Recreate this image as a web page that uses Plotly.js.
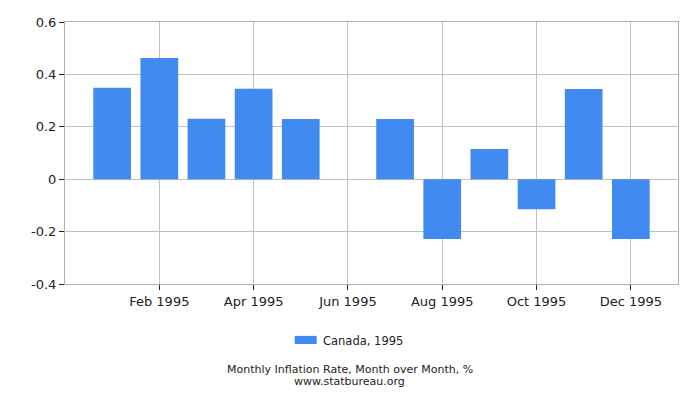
<!DOCTYPE html>
<html>
<head>
<meta charset="utf-8">
<script src="https://cdn.plot.ly/plotly-3.0.1.min.js"></script>
<style>html,body{margin:0;padding:0;background:#fff}#chart{width:700px;height:400px}</style>
</head>
<body>
<div id="chart"></div>
<script>
const months = ["Jan 1995","Feb 1995","Mar 1995","Apr 1995","May 1995","Jun 1995","Jul 1995","Aug 1995","Sep 1995","Oct 1995","Nov 1995","Dec 1995"];
const values = [0.349, 0.463, 0.231, 0.345, 0.23, 0, 0.23, -0.228, 0.115, -0.115, 0.344, -0.228];
const tickIdx = [1, 3, 5, 7, 9, 11];
const tickLabels = ["Feb 1995","Apr 1995","Jun 1995","Aug 1995","Oct 1995","Dec 1995"];
const yTicks = [-0.4, -0.2, 0, 0.2, 0.4, 0.6];
const yLabels = ["-0.4", "-0.2", "0", "0.2", "0.4", "0.6"];
const seriesName = "Canada, 1995";
const titleLine1 = "Monthly Inflation Rate, Month over Month, %";
const titleLine2 = "www.statbureau.org";
const barColor = "#418bf0";

const xs = months.map((m, i) => i);

const trace = {
  type: "bar",
  x: xs,
  y: values,
  name: seriesName,
  text: months,
  hoverinfo: "text+y",
  textposition: "none",
  marker: {color: barColor},
  width: 0.8,
  showlegend: false
};

const font = {family: "DejaVu Sans, sans-serif", size: 13, color: "#222"};
const small = {family: "DejaVu Sans, sans-serif", size: 11, color: "#222"};

const layout = {
  width: 700, height: 400,
  margin: {l: 65, r: 22, t: 22, b: 116},
  paper_bgcolor: "#fff", plot_bgcolor: "#fff",
  font: font,
  showlegend: false,
  xaxis: {
    range: [-1, 12],
    tickvals: tickIdx, ticktext: tickLabels,
    showgrid: true, gridcolor: "#c0c0c0", gridwidth: 1,
    showline: true, linecolor: "#b0b0b0", linewidth: 1, mirror: true,
    ticks: "outside", ticklen: 5, tickcolor: "#222",
    zeroline: false, fixedrange: true,
    tickfont: font
  },
  yaxis: {
    range: [-0.4, 0.6],
    tickvals: yTicks, ticktext: yLabels,
    showgrid: true, gridcolor: "#c0c0c0", gridwidth: 1,
    showline: true, linecolor: "#b0b0b0", linewidth: 1, mirror: true,
    ticks: "outside", ticklen: 5, tickcolor: "#222",
    zeroline: true, zerolinecolor: "#c0c0c0", zerolinewidth: 1,
    fixedrange: true, tickfont: font
  },
  shapes: [
    {type: "rect", xref: "paper", yref: "paper", x0: 0.3747, x1: 0.4106, y0: -0.198, y1: -0.229,
     fillcolor: barColor, line: {width: 0}}
  ],
  annotations: [
    {text: seriesName, xref: "paper", yref: "paper", x: 0.417, y: -0.218, xanchor: "left", yanchor: "middle", showarrow: false,
     font: {family: "DejaVu Sans, sans-serif", size: 11.5, color: "#222"}},
    {text: titleLine1, xref: "paper", yref: "paper", x: 0.4645, y: -0.327, xanchor: "center", yanchor: "middle", showarrow: false,
     borderpad: 0, font: small},
    {text: titleLine2, xref: "paper", yref: "paper", x: 0.4645, y: -0.373, xanchor: "center", yanchor: "middle", showarrow: false,
     borderpad: 0, font: small}
  ]
};

Plotly.newPlot("chart", [trace], layout, {displayModeBar: false, staticPlot: true});
</script>
</body>
</html>
